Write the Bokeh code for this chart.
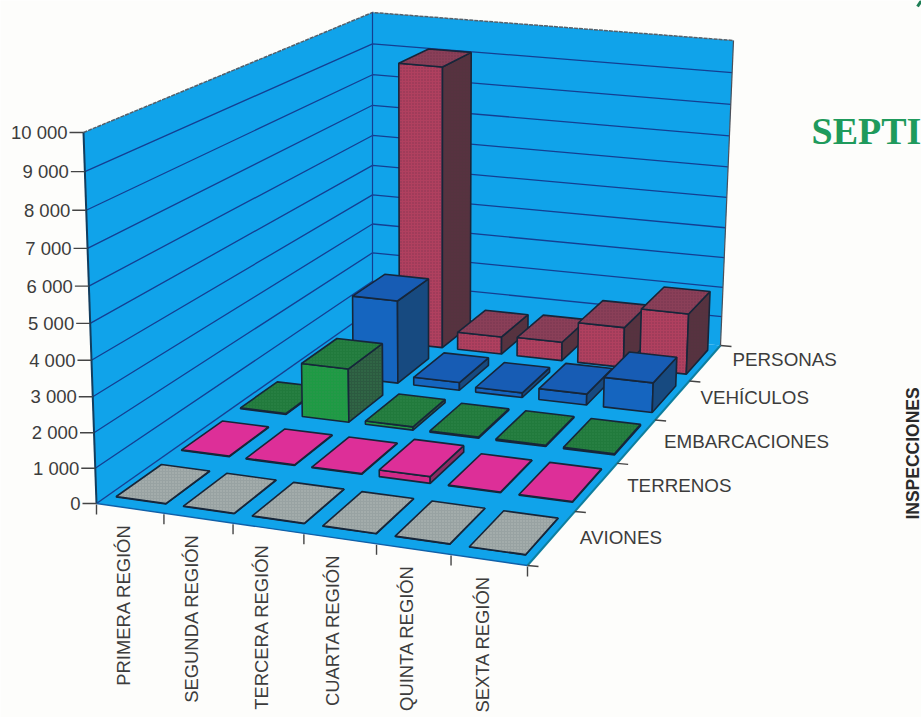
from math import pi

from bokeh.core.properties import value
from bokeh.embed import file_html
from bokeh.models import Range1d
from bokeh.plotting import figure
from bokeh.resources import INLINE

# Inspection counts per region and kind of inspection
regions = ["PRIMERA REGIÓN", "SEGUNDA REGIÓN", "TERCERA REGIÓN",
           "CUARTA REGIÓN", "QUINTA REGIÓN", "SEXTA REGIÓN"]
kinds = ["AVIONES", "TERRENOS", "EMBARCACIONES", "VEHÍCULOS", "PERSONAS"]
aviones = [10, 10, 10, 10, 10, 10]
terrenos = [20, 20, 20, 200, 20, 20]
embarcaciones = [30, 1650, 100, 40, 40, 40]
vehiculos = [0, 2650, 250, 150, 350, 950]
personas = [0, 9100, 580, 620, 1330, 2000]
series = [aviones, terrenos, embarcaciones, vehiculos, personas]
y_ticks = [0, 1000, 2000, 3000, 4000, 5000, 6000, 7000, 8000, 9000, 10000]
y_tick_labels = ["0", "1 000", "2 000", "3 000", "4 000", "5 000",
                 "6 000", "7 000", "8 000", "9 000", "10 000"]

# Fill colours per kind: front, top, right side, speckle
palette = [
    ("#7f8d8a", "#98a2a2", "#6d7775", "#c9d0cc"),
    ("#d22a88", "#dd2f98", "#8c2a62", None),
    ("#1e9a44", "#217a3c", "#2c5a40", "#3f8f5a"),
    ("#1565bf", "#175cb4", "#174a80", None),
    ("#b0405f", "#8a3f58", "#55333f", "#5e2a42"),
]

WIDTH, HEIGHT = 921, 717
Z_MAX = 10000

# Corners of the chart box on the page: floor, then the plane at the top of the scale
FLOOR = [(96, 503), (527, 565), (720, 345), (372, 309)]
TOP = [(83, 132), (532, 186), (733, 40), (372, 12)]


def homography(c):
    (x0, y0), (x1, y1), (x2, y2), (x3, y3) = c
    dx1, dx2 = x1 - x2, x3 - x2
    dy1, dy2 = y1 - y2, y3 - y2
    sx, sy = x0 - x1 + x2 - x3, y0 - y1 + y2 - y3
    det = dx1 * dy2 - dx2 * dy1
    g = (sx * dy2 - dx2 * sy) / det
    h = (dx1 * sy - sx * dy1) / det
    return (x1 - x0 + g * x1, x3 - x0 + h * x3, x0,
            y1 - y0 + g * y1, y3 - y0 + h * y3, y0, g, h)


HF, HT = homography(FLOOR), homography(TOP)
N_X, N_Y = len(regions), len(kinds)


def apply(H, u, v):
    a, b, c, d, e, f, g, h = H
    w = g * u + h * v + 1
    return (a * u + b * v + c) / w, (d * u + e * v + f) / w


def project(x, y, z=0):
    """Page position of region coordinate x, kind coordinate y and value z."""
    t = z / (z + 1.06 * (Z_MAX - z)) if z else 0
    x0, y0 = apply(HF, x / N_X, y / N_Y)
    x1, y1 = apply(HT, x / N_X, y / N_Y)
    return x0 + (x1 - x0) * t, y0 + (y1 - y0) * t


p = figure(width=WIDTH, height=HEIGHT, output_backend="svg", toolbar_location=None,
           x_range=Range1d(0, WIDTH), y_range=Range1d(HEIGHT, 0),
           x_axis_type=None, y_axis_type=None, min_border=0,
           background_fill_color="#fdfdfb", border_fill_color="#fdfdfb",
           outline_line_color=None)
p.grid.visible = False

WALL = "#10a3ea"
GRID = "#143f92"
EDGE = "#16263a"
TEXT = "#3c3c3c"
FONT = value("Liberation Sans")


def poly(points, fill, line=EDGE, width=1.6, speckle=None):
    xs, ys = zip(*points)
    extra = {}
    if speckle:
        extra = dict(hatch_pattern="dot", hatch_scale=3, hatch_weight=1,
                     hatch_color=speckle, hatch_alpha=0.5)
    p.patch(list(xs), list(ys), fill_color=fill, line_color=line, line_width=width, **extra)


def seg(points, color, width=1.3, dash="solid"):
    xs, ys = zip(*points)
    p.line(list(xs), list(ys), line_color=color, line_width=width, line_dash=dash)


# Walls and floor
poly([project(0, 0), project(0, N_Y), project(0, N_Y, Z_MAX), project(0, 0, Z_MAX)], WALL, None, 0)
poly([project(0, N_Y), project(N_X, N_Y), project(N_X, N_Y, Z_MAX), project(0, N_Y, Z_MAX)], WALL, None, 0)
poly([project(0, 0), project(N_X, 0), project(N_X, N_Y), project(0, N_Y)], WALL, None, 0)

# Value gridlines across both walls
for z in y_ticks[1:-1]:
    seg([project(0, 0, z), project(0, N_Y, z), project(N_X, N_Y, z)], GRID)

# Box edges
seg([project(0, 0, Z_MAX), project(0, N_Y, Z_MAX), project(N_X, N_Y, Z_MAX)], "#55606a", 1.5, "4 1")
seg([project(0, N_Y), project(0, N_Y, Z_MAX)], GRID, 1.2)
seg([project(0, 0), project(0, 0, Z_MAX)], "#123d5e", 2)
seg([project(N_X, N_Y), project(N_X, N_Y, Z_MAX)], "#4b4f58", 1.2)
seg([project(0, 0), project(0, N_Y)], GRID, 1.4)
seg([project(0, 0), project(N_X, 0)], "#1060a8", 1.4)
seg([project(N_X, 0), project(N_X, N_Y)], "#0f7f9e", 2)

# Value axis ticks and labels
vx, vy = [], []
for z in y_ticks:
    x, y = project(0, 0, z)
    seg([(x - 14, y), (x, y)], "#444444", 1.4)
    vx.append(x - 16)
    vy.append(y)
p.text(vx, vy, text=y_tick_labels, text_font=FONT, text_font_size="18.5px", text_color=TEXT,
       text_align="right", text_baseline="middle")

# Region axis ticks and labels
for i in range(N_X + 1):
    x, y = project(i, 0)
    seg([(x, y + 1), (x, y + 11)], "#444444", 1.4)
rx, ry = [], []
for i in range(N_X):
    x, y = project(i + 0.5, 0)
    rx.append(x - 7)
    ry.append(y + 16)
p.text(rx, ry, text=regions, text_font=FONT, text_font_size="18.4px", text_color=TEXT, angle=pi / 2,
       text_align="right", text_baseline="middle")

# Kind axis ticks and labels
label_drop = [26, 22, 21, 17, 14]
label_shift = [5, 10, 9, 11, 12]
kx, ky = [], []
for j in range(N_Y + 1):
    x, y = project(N_X, j)
    seg([(x, y), (x + 11, y + 1)], "#444444", 1.4)
    if j > 0:
        kx.append(x + label_shift[j - 1])
        ky.append(y + label_drop[j - 1])
p.text(kx, ky, text=kinds, text_font=FONT, text_font_size="18.8px", text_color=TEXT,
       text_align="left", text_baseline="middle")

# Bars, painted from the back row forward and from left to right
GAP_X, GAP_Y = 0.13, 0.16
for j in reversed(range(N_Y)):
    front, top, side, speckle = palette[j]
    for i in range(N_X):
        z = series[j][i]
        if not z:
            continue
        x0, x1 = i + GAP_X, i + 1 - GAP_X
        y0, y1 = j + GAP_Y, j + 1 - GAP_Y
        poly([project(x0, y0), project(x1, y0), project(x1, y0, z), project(x0, y0, z)], front,
             speckle=speckle)
        poly([project(x1, y0), project(x1, y1), project(x1, y1, z), project(x1, y0, z)], side,
             speckle=speckle)
        poly([project(x0, y0, z), project(x1, y0, z), project(x1, y1, z), project(x0, y1, z)], top,
             speckle=speckle)

# Page text beside the chart
seg([(917, 6), (921, 0)], "#1f7f55", 3)
p.text([811], [130], text=["SEPTI"], text_font=value("Liberation Serif"), text_font_style="bold",
       text_font_size="38px", text_color="#1f9a5c", text_align="left", text_baseline="middle")
p.text([912], [453], text=["INSPECCIONES"], text_font=FONT, text_font_style="bold",
       text_font_size="17.5px", text_color="#2a2a2a", angle=pi / 2,
       text_align="center", text_baseline="middle")

open("out.html", "w").write(file_html(p, INLINE))
